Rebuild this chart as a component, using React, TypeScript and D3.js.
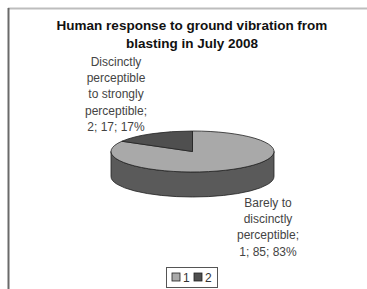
import { useEffect, useRef } from 'react'
import * as d3 from 'd3'

const categories = ['1', '2']
const values = [85, 17]
const percents = ['83%', '17%']
const labelNames = [
  ['Barely to', 'discinctly', 'perceptible;'],
  ['Discinctly', 'perceptible', 'to strongly', 'perceptible;'],
]
const titleLines = ['Human response to ground vibration from', 'blasting in July 2008']
const topColors = ['#a9a9a9', '#4f4f4f']
const sideColors = ['#5a5a5a', '#3a3a3a']

export default function App() {
  const svgRef = useRef<SVGSVGElement>(null)

  useEffect(() => {
    if (!svgRef.current) return
    const svg = d3.select(svgRef.current)
    svg.selectAll('*').remove()

    const W = 367
    const H = 289
    const cx = 192.5
    const cy = 151.5
    const rx = 81.5
    const ry = 20.5
    const depth = 25

    // frame
    svg.append('line')
      .attr('x1', 8).attr('x2', W).attr('y1', 8.5).attr('y2', 8.5)
      .attr('stroke', '#bdbdbd').attr('stroke-width', 2)
    svg.append('line')
      .attr('x1', 8.5).attr('x2', 8.5).attr('y1', 8).attr('y2', H)
      .attr('stroke', '#6a6a6a').attr('stroke-width', 2)

    // title
    const title = svg.append('text')
      .attr('text-anchor', 'middle')
      .attr('font-family', 'Liberation Sans, Arial, sans-serif')
      .attr('font-weight', 'bold')
      .attr('font-size', 13.5)
      .attr('fill', '#111')
    titleLines.forEach((t, i) => {
      title.append('tspan').attr('x', 192).attr('y', 30 + i * 18).text(t)
    })

    const pie = d3.pie<number>().sort(null).value(d => d)
    const arcs = pie(values)

    const px = (a: number) => cx + rx * Math.sin(a)
    const py = (a: number) => cy - ry * Math.cos(a)

    // sides (visible front half: angles between PI/2 and 3PI/2)
    arcs.forEach((a, i) => {
      const s = Math.max(a.startAngle, Math.PI / 2)
      const e = Math.min(a.endAngle, (3 * Math.PI) / 2)
      if (e <= s) return
      const large = e - s > Math.PI ? 1 : 0
      const d =
        `M${px(s)},${py(s)} A${rx},${ry} 0 ${large} 1 ${px(e)},${py(e)} ` +
        `L${px(e)},${py(e) + depth} A${rx},${ry} 0 ${large} 0 ${px(s)},${py(s) + depth} Z`
      svg.append('path')
        .attr('d', d)
        .attr('fill', sideColors[i])
        .attr('stroke', '#222')
        .attr('stroke-width', 0.8)
    })

    // tops
    const arc = d3.arc<d3.PieArcDatum<number>>().innerRadius(0).outerRadius(rx)
    const top = svg.append('g').attr('transform', `translate(${cx},${cy}) scale(1,${ry / rx})`)
    arcs.forEach((a, i) => {
      top.append('path')
        .attr('d', arc(a) as string)
        .attr('fill', topColors[i])
        .attr('stroke', '#222')
        .attr('stroke-width', 0.8)
        .attr('vector-effect', 'non-scaling-stroke')
    })

    // data labels
    const labelPos = [
      { x: 268, y: 207 },
      { x: 116, y: 66 },
    ]
    arcs.forEach((a, i) => {
      const lines = [...labelNames[i], `${categories[i]}; ${values[i]}; ${percents[i]}`]
      const t = svg.append('text')
        .attr('text-anchor', 'middle')
        .attr('font-family', 'Liberation Sans, Arial, sans-serif')
        .attr('font-size', 12)
        .attr('fill', '#444')
      lines.forEach((l, j) => {
        t.append('tspan').attr('x', labelPos[i].x).attr('y', labelPos[i].y + j * 16.2).text(l)
      })
    })

    // legend
    const lg = svg.append('g').attr('transform', 'translate(166,267)')
    lg.append('rect')
      .attr('x', 0.5).attr('y', 0.5).attr('width', 51).attr('height', 20)
      .attr('fill', '#fff').attr('stroke', '#555').attr('stroke-width', 1)
    const lx = d3.scalePoint<string>().domain(categories).range([6, 28])
    categories.forEach((c, i) => {
      lg.append('rect')
        .attr('x', lx(c)!).attr('y', 6).attr('width', 8).attr('height', 8)
        .attr('fill', topColors[i]).attr('stroke', '#222').attr('stroke-width', 0.8)
      lg.append('text')
        .attr('x', lx(c)! + 11).attr('y', 15)
        .attr('font-family', 'Liberation Sans, Arial, sans-serif')
        .attr('font-size', 12)
        .attr('fill', '#333')
        .text(c)
    })
  }, [])

  return (
    <svg
      ref={svgRef}
      width={367}
      height={289}
      style={{ position: 'absolute', left: 0, top: 0, background: '#fff' }}
    />
  )
}
